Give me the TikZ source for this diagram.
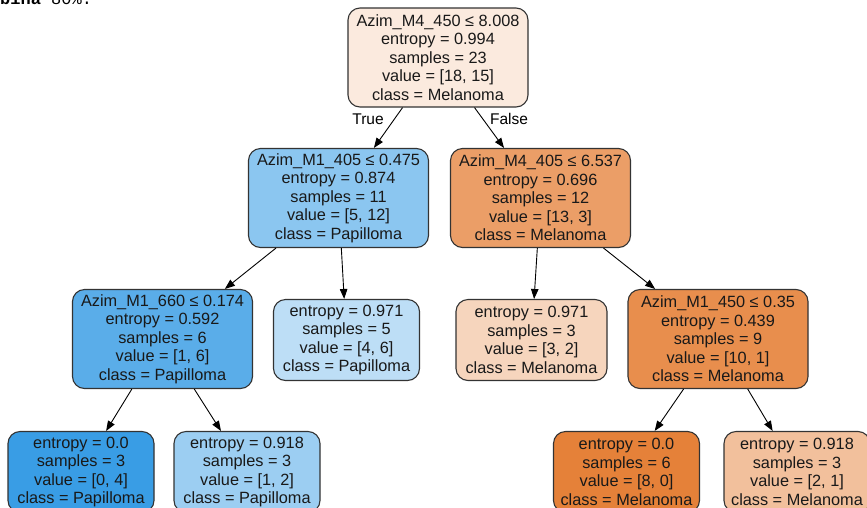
\documentclass[tikz,border=0pt]{standalone}
\usepackage{fontspec}
\setmainfont{Liberation Sans}
\newfontfamily\monofnt{Liberation Mono}
\usetikzlibrary{arrows.meta}
\definecolor{c0}{RGB}{251,234,222}
\definecolor{c1l}{RGB}{139,198,240}
\definecolor{c1r}{RGB}{235,158,103}
\definecolor{c2a}{RGB}{90,173,233}
\definecolor{c2b}{RGB}{189,222,246}
\definecolor{c2c}{RGB}{246,213,189}
\definecolor{c2d}{RGB}{232,142,77}
\definecolor{c3a}{RGB}{57,157,229}
\definecolor{c3b}{RGB}{156,206,242}
\definecolor{c3c}{RGB}{229,129,57}
\definecolor{c3d}{RGB}{242,192,156}
\definecolor{edgegray}{RGB}{51,51,51}
\tikzset{
  tnode/.style={draw=edgegray, line width=1.1pt, rounded corners=12pt, inner sep=0pt,
    align=center, font=\fontsize{16.3}{18.5}\selectfont, text=black!90},
  splitbox/.style={tnode, minimum width=180pt, minimum height=99pt},
  leafbox/.style={tnode, minimum width=146pt, minimum height=81pt},
  edge/.style={line width=0.9pt, -{Triangle[length=10pt,width=7.5pt]}},
  elabel/.style={font=\fontsize{15.5}{18}\selectfont}
}
\begin{document}
\begin{tikzpicture}[x=1pt,y=-1pt]
\useasboundingbox (0,0) rectangle (867,507);
\fill[white] (0,0) rectangle (867,507);
\node[anchor=base west, inner sep=0pt, font=\monofnt\fontsize{17}{18}\selectfont] (frag) at (0,4) {\textbf{bina} 80\%:};

\node[splitbox, fill=c0] (root) at (438,57.5) {Azim\_M4\_450 ≤ 8.008\\entropy = 0.994\\samples = 23\\value = [18, 15]\\class = Melanoma};
\node[splitbox, fill=c1l] (l) at (338.5,198) {Azim\_M1\_405 ≤ 0.475\\entropy = 0.874\\samples = 11\\value = [5, 12]\\class = Papilloma};
\node[splitbox, fill=c1r] (r) at (540.5,198) {Azim\_M4\_405 ≤ 6.537\\entropy = 0.696\\samples = 12\\value = [13, 3]\\class = Melanoma};
\node[splitbox, fill=c2a] (ll) at (162.5,339) {Azim\_M1\_660 ≤ 0.174\\entropy = 0.592\\samples = 6\\value = [1, 6]\\class = Papilloma};
\node[leafbox, fill=c2b] (lr) at (346.5,340) {entropy = 0.971\\samples = 5\\value = [4, 6]\\class = Papilloma};
\node[leafbox, fill=c2c, minimum width=151pt] (rl) at (531.5,340) {entropy = 0.971\\samples = 3\\value = [3, 2]\\class = Melanoma};
\node[splitbox, fill=c2d] (rr) at (718,339) {Azim\_M1\_450 ≤ 0.35\\entropy = 0.439\\samples = 9\\value = [10, 1]\\class = Melanoma};
\node[leafbox, fill=c3a] (lll) at (81,472) {entropy = 0.0\\samples = 3\\value = [0, 4]\\class = Papilloma};
\node[leafbox, fill=c3b] (llr) at (247,472) {entropy = 0.918\\samples = 3\\value = [1, 2]\\class = Papilloma};
\node[leafbox, fill=c3c] (rrl) at (626.5,472) {entropy = 0.0\\samples = 6\\value = [8, 0]\\class = Melanoma};
\node[leafbox, fill=c3d] (rrr) at (797,472) {entropy = 0.918\\samples = 3\\value = [2, 1]\\class = Melanoma};

\draw[edge] (root) -- (l);
\draw[edge] (root) -- (r);
\draw[edge] (l) -- (ll);
\draw[edge] (l) -- (lr);
\draw[edge] (r) -- (rl);
\draw[edge] (r) -- (rr);
\draw[edge] (ll) -- (lll);
\draw[edge] (ll) -- (llr);
\draw[edge] (rr) -- (rrl);
\draw[edge] (rr) -- (rrr);

\node[elabel] (lt) at (368,119) {True};
\node[elabel] (lf) at (509,119) {False};
\end{tikzpicture}
\end{document}
